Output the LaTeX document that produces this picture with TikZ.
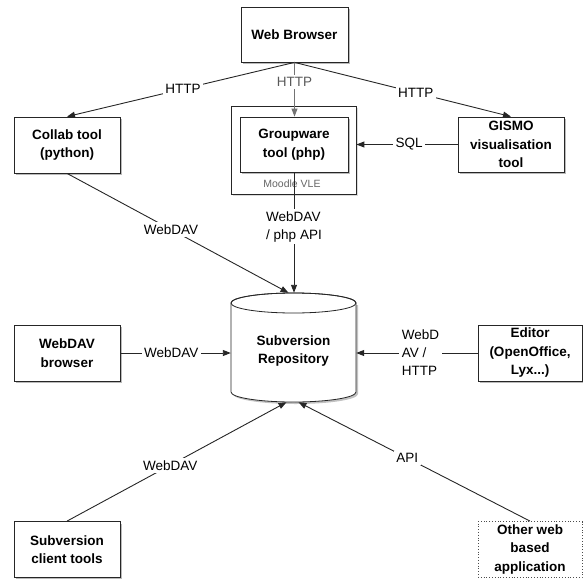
\documentclass[tikz,border=0pt]{standalone}
\usepackage{fontspec}
\setmainfont{Liberation Sans}
\usetikzlibrary{shadows,arrows.meta,calc}
\begin{document}
\begin{tikzpicture}[x=1pt,y=-1pt,
  shadowed/.style={drop shadow={shadow xshift=2pt, shadow yshift=-2pt, fill=black!60, opacity=0.45}},
  boxbase/.style={draw=black!85, line width=0.8pt, fill=white, align=center, inner sep=0pt,
    font=\bfseries\fontsize{13.5}{18.5}\selectfont},
  box/.style={boxbase, shadowed},
  lbl/.style={fill=white, inner sep=2.5pt, align=left, font=\fontsize{13.5}{18}\selectfont},
  conn/.style={draw=black!85, line width=0.9pt, -{Triangle[length=8pt,width=6pt]}},
  lightconn/.style={conn, draw=black!55}
]
\useasboundingbox (0,0) rectangle (583,578);

% boxes
\node[box, minimum width=107pt, minimum height=55pt] (browser) at (294.5,34.5) {Web Browser};
\node[box, minimum width=106pt, minimum height=56pt] (collab) at (67,145) {Collab tool\\(python)};
\node[boxbase, drop shadow={shadow xshift=2pt, shadow yshift=-2pt, fill=black!40, opacity=0.35},
      minimum width=125pt, minimum height=88pt] (moodle) at (293.5,150) {};
\node[font=\fontsize{10.5}{12}\selectfont, text=black!60] (moodlelbl) at (292,184) {Moodle VLE};
\node[box, minimum width=108pt, minimum height=55pt] (groupware) at (294,144.5) {Groupware\\tool (php)};
\node[box, minimum width=106pt, minimum height=55pt] (gismo) at (511,144.5) {GISMO\\visualisation\\tool};
\node[box, minimum width=106pt, minimum height=56pt] (davbrowser) at (67,353) {WebDAV\\browser};
\node[box, minimum width=104pt, minimum height=56pt] (editor) at (530,353) {Editor\\(OpenOffice,\\Lyx...)};
\node[box, minimum width=106pt, minimum height=56pt] (client) at (67,549.5) {Subversion\\client tools};
\node[boxbase, draw=black!70, dotted, minimum width=104pt, minimum height=56pt] (other) at (530,549.5) {Other web\\based\\application};

% repository cylinder
\fill[black!60, opacity=0.4] (233,305) -- (233,394)
  arc[start angle=180, end angle=360, x radius=62.5pt, y radius=10pt] -- (358,305) -- cycle;
\draw[draw=black!85, line width=0.8pt, fill=white] (231,303) -- (231,392)
  arc[start angle=180, end angle=360, x radius=62.5pt, y radius=10pt] -- (356,303)
  arc[start angle=0, end angle=180, x radius=62.5pt, y radius=10pt] -- cycle;
\draw[draw=black!85, line width=0.8pt] (293.5,303) ellipse [x radius=62.5pt, y radius=10pt];
\node[minimum width=125pt, minimum height=109pt, inner sep=0pt] (repo) at (293.5,347.5) {};
\node[font=\bfseries\fontsize{13.5}{18.5}\selectfont, align=center] (repotext) at (293.5,351) {Subversion\\Repository};

% connectors
\draw[conn] (browser.south) -- node[lbl, pos=0.49] {HTTP} (collab.north);
\draw[lightconn] (browser.south) -- node[lbl, pos=0.36, text=black!65] {HTTP} (browser.south |- groupware.north);
\draw[conn] (browser.south) -- node[lbl, pos=0.56] {HTTP} (gismo.north);
\draw[conn] (gismo.west) -- node[lbl, pos=0.48] {SQL} (gismo.west -| moodle.east);
\draw[conn] (collab.south) -- node[lbl, pos=0.47] {WebDAV} ($(repo.north)+(-5,0)$);
\draw[conn] (groupware.south) -- node[lbl, pos=0.45] {WebDAV\\/ php API} (groupware.south |- repo.north);
\draw[conn] (davbrowser.east) -- node[lbl, pos=0.46] {WebDAV} (davbrowser.east -| repo.west);
\draw[conn] (editor.west) -- node[lbl, pos=0.47] {WebD\\AV /\\HTTP} (editor.west -| repo.east);
\draw[conn] (client.north) -- node[lbl, pos=0.47] {WebDAV} ($(repo.south)+(-7,0)$);
\draw[conn] (other.north) -- node[lbl, pos=0.53] {API} ($(repo.south)+(5,0)$);
\end{tikzpicture}
\end{document}
